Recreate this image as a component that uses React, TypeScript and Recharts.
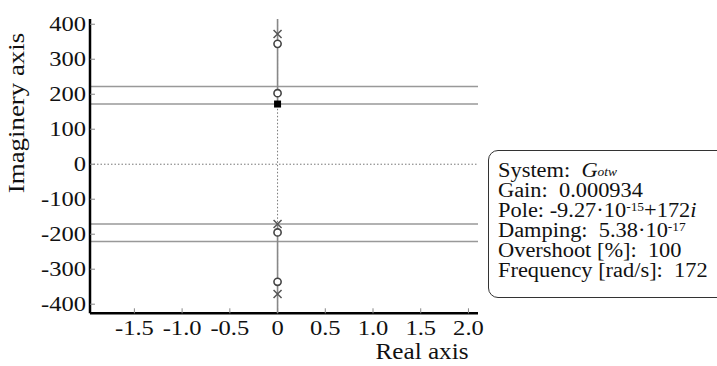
import React from 'react';
import { ComposedChart, XAxis, YAxis, Scatter, ReferenceLine } from 'recharts';

const xTicks = [-1.5, -1, -0.5, 0, 0.5, 1, 1.5, 2];
const yTicks = [-400, -300, -200, -100, 0, 100, 200, 300, 400];
const xDomain = [-1.965, 2.1];
const yDomain = [-426, 415];

// root locus branches on the imaginary axis
const locusUpper = [{ re: 0, im: 415 }, { re: 0, im: 172 }];
const locusLower = [{ re: 0, im: -171 }, { re: 0, im: -426 }];
// poles (x), zeros (o), selected pole (square)
const poles = [{ re: 0, im: 372 }, { re: 0, im: -171 }, { re: 0, im: -371 }];
const zeros = [{ re: 0, im: 344 }, { re: 0, im: 203 }, { re: 0, im: -195 }, { re: 0, im: -336 }];
const selected = [{ re: 0, im: 172 }];
// horizontal constant-frequency lines
const levels = [222, 172, -171, -221];

const FONT = '"Liberation Serif", "Times New Roman", serif';
const INK = '#111';

const fmtX = (v: number) => (v === 0 ? '0' : v.toFixed(1));

const XTick = ({ x, y, payload }: any) => (
  <g>
    <line x1={x} x2={x} y1={y} y2={y - 5} stroke="#888" strokeWidth={1} />
    <text transform={`translate(${x},${y + 22}) scale(1.17,1)`} textAnchor="middle" fontFamily={FONT} fontSize={21} fill={INK}>
      {fmtX(payload.value)}
    </text>
  </g>
);

const YTick = ({ x, y, payload }: any) => (
  <g>
    <line x1={x} x2={x + 5} y1={y} y2={y} stroke="#888" strokeWidth={1} />
    <text transform={`translate(${x - 4},${y + 7}) scale(1.17,1)`} textAnchor="end" fontFamily={FONT} fontSize={21} fill={INK}>
      {payload.value}
    </text>
  </g>
);

const TopTick = ({ x, y }: any) => <line x1={x} x2={x} y1={y} y2={y + 5} stroke="#888" strokeWidth={1} />;
const RightTick = ({ x, y }: any) => <line x1={x} x2={x - 5} y1={y} y2={y} stroke="#888" strokeWidth={1} />;

const Cross = ({ cx, cy }: any) => (
  <path d={`M${cx - 4},${cy - 4}L${cx + 4},${cy + 4}M${cx - 4},${cy + 4}L${cx + 4},${cy - 4}`} stroke="#555" strokeWidth={1.5} fill="none" />
);
const Ring = ({ cx, cy }: any) => <circle cx={cx} cy={cy} r={3.6} fill="#fff" stroke="#444" strokeWidth={1.6} />;
const Square = ({ cx, cy }: any) => <rect x={cx - 3.5} y={cy - 3.5} width={7} height={7} fill="#000" />;

const line = { position: 'relative' as const, whiteSpace: 'nowrap' as const, transform: 'scaleX(1.12)', transformOrigin: 'left', height: 20 };
const sup = { fontSize: 12, lineHeight: 0, position: 'relative' as const, top: -6, verticalAlign: 'baseline' };

export default function App() {
  return (
    <div style={{ position: 'absolute', left: 0, top: 0, width: 717, height: 366, overflow: 'hidden', background: '#fff' }}>
      <ComposedChart width={490} height={366} margin={{ top: 19, right: 12, left: 30, bottom: 22.7 }}>
        <XAxis
          dataKey="re"
          type="number"
          domain={xDomain}
          allowDataOverflow
          ticks={xTicks}
          interval={0}
          height={30}
          tickSize={0}
          tickMargin={0}
          tickLine={false}
          tick={<XTick />}
          axisLine={{ stroke: '#000', strokeWidth: 2.5 }}
          label={{
            content: ({ viewBox }: any) => (
              <text transform={`translate(${viewBox.x + viewBox.width - 56},${viewBox.y + 46}) scale(1.05,1)`} textAnchor="middle" fontFamily={FONT} fontSize={24} fill={INK}>
                Real axis
              </text>
            ),
          }}
        />
        <XAxis
          xAxisId="top"
          orientation="top"
          type="number"
          domain={xDomain}
          allowDataOverflow
          ticks={xTicks}
          interval={0}
          height={0}
          tickSize={0}
          tickMargin={0}
          tickLine={false}
          tick={<TopTick />}
          axisLine={{ stroke: '#000', strokeWidth: 2.5 }}
        />
        <YAxis
          dataKey="im"
          type="number"
          domain={yDomain}
          allowDataOverflow
          ticks={yTicks}
          interval={0}
          width={60}
          tickSize={0}
          tickMargin={0}
          tickLine={false}
          tick={<YTick />}
          axisLine={{ stroke: '#000', strokeWidth: 2.5 }}
          label={{
            content: () => (
              <text transform="translate(24,113) rotate(-90) scale(1.12,1)" textAnchor="middle" fontFamily={FONT} fontSize={24} fill={INK}>
                Imaginery axis
              </text>
            ),
          }}
        />
        <YAxis
          yAxisId="right"
          orientation="right"
          type="number"
          domain={yDomain}
          allowDataOverflow
          ticks={yTicks}
          interval={0}
          width={0}
          tickSize={0}
          tickMargin={0}
          tickLine={false}
          tick={<RightTick />}
          axisLine={{ stroke: '#000', strokeWidth: 2 }}
        />
        <ReferenceLine y={0} stroke="#777" strokeWidth={1} strokeDasharray="1.5 2" />
        <ReferenceLine x={0} stroke="#777" strokeWidth={1} strokeDasharray="1.5 2" />
        {levels.map((v) => (
          <ReferenceLine key={v} y={v} stroke="#999" strokeWidth={1.5} />
        ))}
        <Scatter data={locusUpper} line={{ stroke: '#888', strokeWidth: 1.6 }} lineType="joint" shape={() => <g />} isAnimationActive={false} />
        <Scatter data={locusLower} line={{ stroke: '#888', strokeWidth: 1.6 }} lineType="joint" shape={() => <g />} isAnimationActive={false} />
        <Scatter data={zeros} shape={<Ring />} isAnimationActive={false} />
        <Scatter data={poles} shape={<Cross />} isAnimationActive={false} />
        <Scatter data={selected} shape={<Square />} isAnimationActive={false} />
      </ComposedChart>
      <div
        style={{
          position: 'absolute',
          left: 488,
          top: 150,
          width: 250,
          height: 137.5,
          border: '1.5px solid #333',
          borderRadius: 10,
          boxSizing: 'content-box',
          padding: '8.5px 0 0 9px',
          fontFamily: FONT,
          fontSize: 20,
          lineHeight: '20px',
          color: INK,
        }}
      >
        <div style={line}>
          System:&nbsp; <i>G</i>
          <i style={{ fontSize: 12, position: 'relative', top: -1, lineHeight: 0 }}>otw</i>
        </div>
        <div style={line}>Gain:&nbsp; 0.000934</div>
        <div style={line}>
          Pole: -9.27·10<span style={sup}>-15</span>+172<i>i</i>
        </div>
        <div style={line}>
          Damping:&nbsp; 5.38·10<span style={sup}>-17</span>
        </div>
        <div style={line}>Overshoot [%]:&nbsp; 100</div>
        <div style={line}>Frequency [rad/s]:&nbsp; 172</div>
      </div>
    </div>
  );
}
